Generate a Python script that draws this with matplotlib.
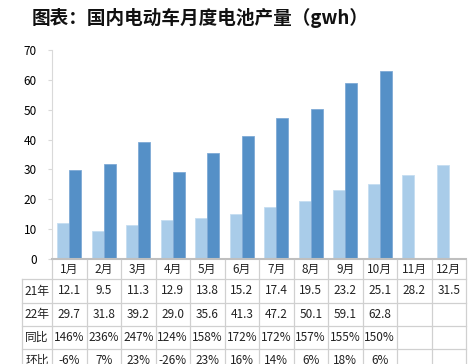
import matplotlib
matplotlib.use("Agg")
import matplotlib.pyplot as plt
import numpy as np

plt.rcParams['font.family'] = ['Noto Sans CJK SC', 'DejaVu Sans']

months = ['1月', '2月', '3月', '4月', '5月', '6月', '7月', '8月', '9月', '10月', '11月', '12月']
y21 = [12.1, 9.5, 11.3, 12.9, 13.8, 15.2, 17.4, 19.5, 23.2, 25.1, 28.2, 31.5]
y22 = [29.7, 31.8, 39.2, 29.0, 35.6, 41.3, 47.2, 50.1, 59.1, 62.8, None, None]
yoy = ['146%', '236%', '247%', '124%', '158%', '172%', '172%', '157%', '155%', '150%', '', '']
mom = ['-6%', '7%', '23%', '-26%', '23%', '16%', '14%', '6%', '18%', '6%', '', '']
row_names = ['21年', '22年', '同比', '环比']

W, H = 468, 364
fig = plt.figure(figsize=(W / 100, H / 100), dpi=100)

def fx(px):
    return px / W

def fy(py):
    return 1 - py / H

ax = fig.add_axes([fx(52), fy(259), fx(466) - fx(52), fy(50) - fy(259)])

x = np.arange(len(months))
bw = 0.35
c_light = '#A9CCE9'
c_dark = '#5590C7'
ax.bar(x - bw / 2, y21, width=bw, color=c_light, edgecolor='#C5DDF1', linewidth=0.6)
v22 = [v if v is not None else 0 for v in y22]
ax.bar(x + bw / 2, v22, width=bw, color=c_dark, edgecolor='#7FAAD6', linewidth=0.6)

ax.set_xlim(-0.5, 11.5)
ax.set_ylim(0, 70)
ax.set_yticks(range(0, 71, 10))
ax.set_xticks([])
ax.tick_params(axis='y', length=3, color='#D9D9D9', labelsize=8.5, pad=8)
for s in ['top', 'right']:
    ax.spines[s].set_visible(False)
ax.spines['left'].set_color('#D9D9D9')
ax.spines['left'].set_linewidth(0.8)
ax.spines['bottom'].set_color('#BFBFBF')
ax.spines['bottom'].set_linewidth(1.5)

# table under the axes (bottom row is cut off by the image edge, as in the source)
gc = '#D0D0D0'
col_px = [52 + i * (466 - 52) / 12 for i in range(13)]
row_px = [260, 279, 303, 326, 349, 372]
lines = []
for cx in col_px:
    lines.append(([fx(cx), fx(cx)], [fy(row_px[0]), fy(row_px[-1])]))
lines.append(([fx(22), fx(22)], [fy(row_px[1]), fy(row_px[-1])]))
for ry in row_px[1:]:
    lines.append(([fx(22), fx(466)], [fy(ry), fy(ry)]))
for lx, ly in lines:
    fig.add_artist(plt.Line2D(lx, ly, color=gc, linewidth=0.9))

tkw = dict(ha='center', va='center', fontsize=8.5, color='#222222')
for i, m in enumerate(months):
    cx = (col_px[i] + col_px[i + 1]) / 2
    fig.text(fx(cx), fy((row_px[0] + row_px[1]) / 2), m, **tkw)

rows = [
    [f'{v:.1f}' for v in y21],
    [f'{v:.1f}' if v is not None else '' for v in y22],
    yoy,
    mom,
]
for r, vals in enumerate(rows):
    cy = (row_px[r + 1] + row_px[r + 2]) / 2
    fig.text(fx(37), fy(cy), row_names[r], **tkw)
    for i, v in enumerate(vals):
        cx = (col_px[i] + col_px[i + 1]) / 2
        fig.text(fx(cx), fy(cy), v, **tkw)

fig.text(fx(32), fy(18), '图表：国内电动车月度电池产量（gwh）', ha='left', va='center',
         fontsize=13.4, fontweight='bold', color='#111111')

fig.savefig('out.png', dpi=100)
